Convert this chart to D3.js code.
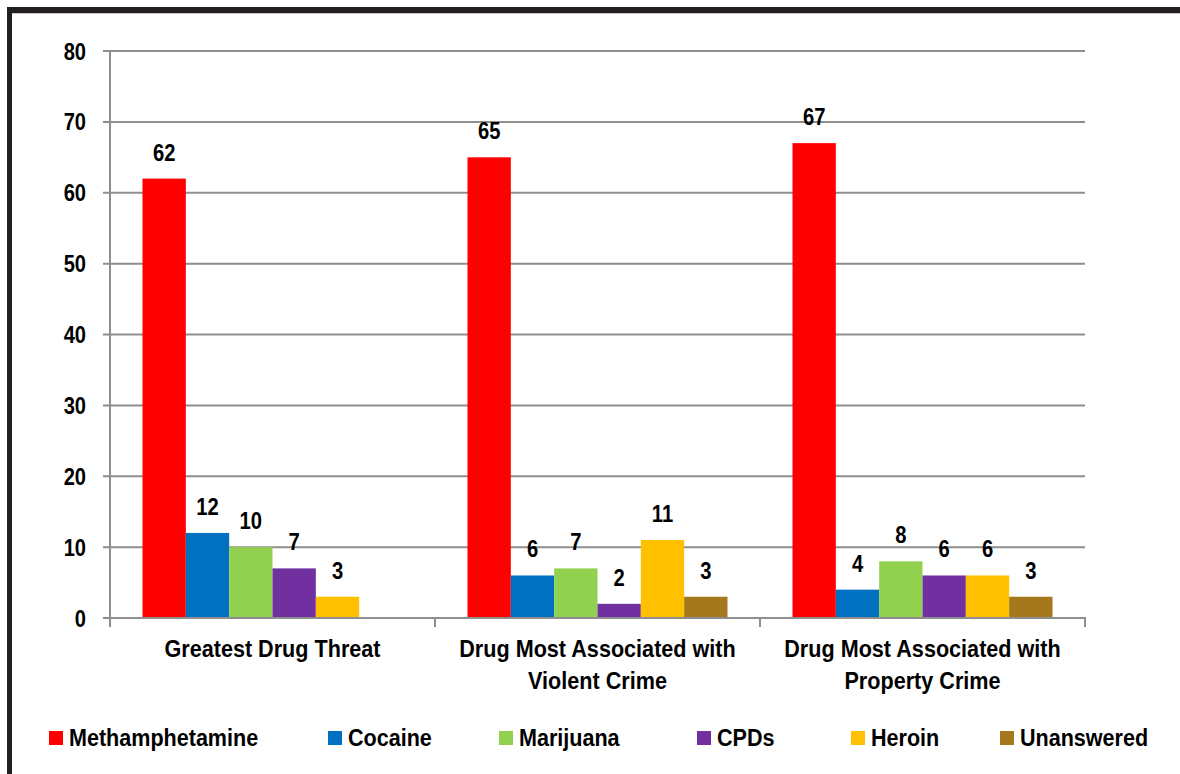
<!DOCTYPE html>
<html>
<head>
<meta charset="utf-8">
<script src="https://cdn.jsdelivr.net/npm/d3@7"></script>
<style>
  html, body { margin: 0; padding: 0; background: #fff; }
  svg { display: block; }
  text { font-family: "Liberation Sans", Arial, sans-serif; font-weight: bold; fill: #000; }
</style>
</head>
<body>
<svg id="chart" width="1180" height="774"></svg>
<script>
// Survey responses (percent of respondents) by question
const categories = [
  ["Greatest Drug Threat"],
  ["Drug Most Associated with", "Violent Crime"],
  ["Drug Most Associated with", "Property Crime"]
];
const seriesNames = ["Methamphetamine", "Cocaine", "Marijuana", "CPDs", "Heroin", "Unanswered"];
const seriesColors = ["#ff0000", "#0070c0", "#92d050", "#7030a0", "#ffc000", "#a5781e"];
// One array per question; null = no response category shown
const greatestThreat = [62, 12, 10, 7, 3, null];
const violentCrime   = [65, 6, 7, 2, 11, 3];
const propertyCrime  = [67, 4, 8, 6, 6, 3];
const yTicks = [0, 10, 20, 30, 40, 50, 60, 70, 80];

const groups = [greatestThreat, violentCrime, propertyCrime];

const svg = d3.select("#chart");

// Page frame
svg.append("rect").attr("x", 7).attr("y", 7).attr("width", 1173).attr("height", 6).attr("fill", "#231f20");
svg.append("rect").attr("x", 7).attr("y", 7).attr("width", 5).attr("height", 767).attr("fill", "#231f20");
svg.append("line").attr("x1", 12).attr("x2", 1180).attr("y1", 13.5).attr("y2", 13.5)
  .attr("stroke", "#c8c8c8").attr("stroke-width", 1);

const plot = { left: 110, right: 1085, top: 51, bottom: 618 };

const x0 = d3.scaleBand().domain(d3.range(categories.length))
  .range([plot.left, plot.right]).paddingInner(0).paddingOuter(0);
const x1 = d3.scaleBand().domain(d3.range(seriesNames.length))
  .range([0, x0.bandwidth()]).paddingInner(0).paddingOuter(0.75);
const y = d3.scaleLinear().domain([0, 80]).range([plot.bottom, plot.top]);

// Gridlines
svg.append("g").selectAll("line").data(yTicks.filter(t => t > 0)).join("line")
  .attr("x1", plot.left - 7).attr("x2", plot.right)
  .attr("y1", d => y(d)).attr("y2", d => y(d))
  .attr("stroke", "#8e8e8e").attr("stroke-width", 2);

// Y tick labels (condensed bold)
svg.append("g").selectAll("text").data(yTicks).join("text")
  .attr("transform", d => `translate(86,${y(d) + 8.5}) scale(0.82,1)`)
  .attr("text-anchor", "end").attr("font-size", 24.5)
  .text(d => d);

// Bars and value labels
const gBars = svg.append("g");
groups.forEach((vals, gi) => {
  const gx = x0(gi);
  vals.forEach((v, si) => {
    if (v == null) return;
    gBars.append("rect")
      .attr("x", gx + x1(si)).attr("width", x1.bandwidth())
      .attr("y", y(v)).attr("height", y(0) - y(v))
      .attr("fill", seriesColors[si]);
    gBars.append("text")
      .attr("transform", `translate(${gx + x1(si) + x1.bandwidth() / 2},${y(v) - 18}) scale(0.86,1)`)
      .attr("text-anchor", "middle").attr("font-size", 23.5)
      .text(v);
  });
});

// Axes
svg.append("line").attr("x1", plot.left).attr("x2", plot.left)
  .attr("y1", plot.top).attr("y2", plot.bottom + 9)
  .attr("stroke", "#8e8e8e").attr("stroke-width", 2);
svg.append("line").attr("x1", plot.left - 7).attr("x2", plot.right + 1)
  .attr("y1", plot.bottom).attr("y2", plot.bottom)
  .attr("stroke", "#8e8e8e").attr("stroke-width", 2);
svg.append("g").selectAll("line").data(d3.range(1, categories.length + 1)).join("line")
  .attr("x1", d => plot.left + d * x0.bandwidth()).attr("x2", d => plot.left + d * x0.bandwidth())
  .attr("y1", plot.bottom).attr("y2", plot.bottom + 9)
  .attr("stroke", "#8e8e8e").attr("stroke-width", 2);

// Category labels
categories.forEach((lines, i) => {
  const cx = x0(i) + x0.bandwidth() / 2;
  lines.forEach((ln, li) => {
    svg.append("text")
      .attr("transform", `translate(${cx},${657 + li * 32}) scale(0.92,1)`)
      .attr("text-anchor", "middle").attr("font-size", 23.5)
      .text(ln);
  });
});

// Legend
const legendX = [49, 328, 499, 697, 851, 1000];
const legend = svg.append("g");
seriesNames.forEach((name, i) => {
  legend.append("rect").attr("x", legendX[i]).attr("y", 731).attr("width", 14).attr("height", 14)
    .attr("fill", seriesColors[i]);
  legend.append("text")
    .attr("transform", `translate(${legendX[i] + 20},${745.5}) scale(0.88,1)`)
    .attr("font-size", 24.5)
    .text(name);
});
</script>
</body>
</html>
